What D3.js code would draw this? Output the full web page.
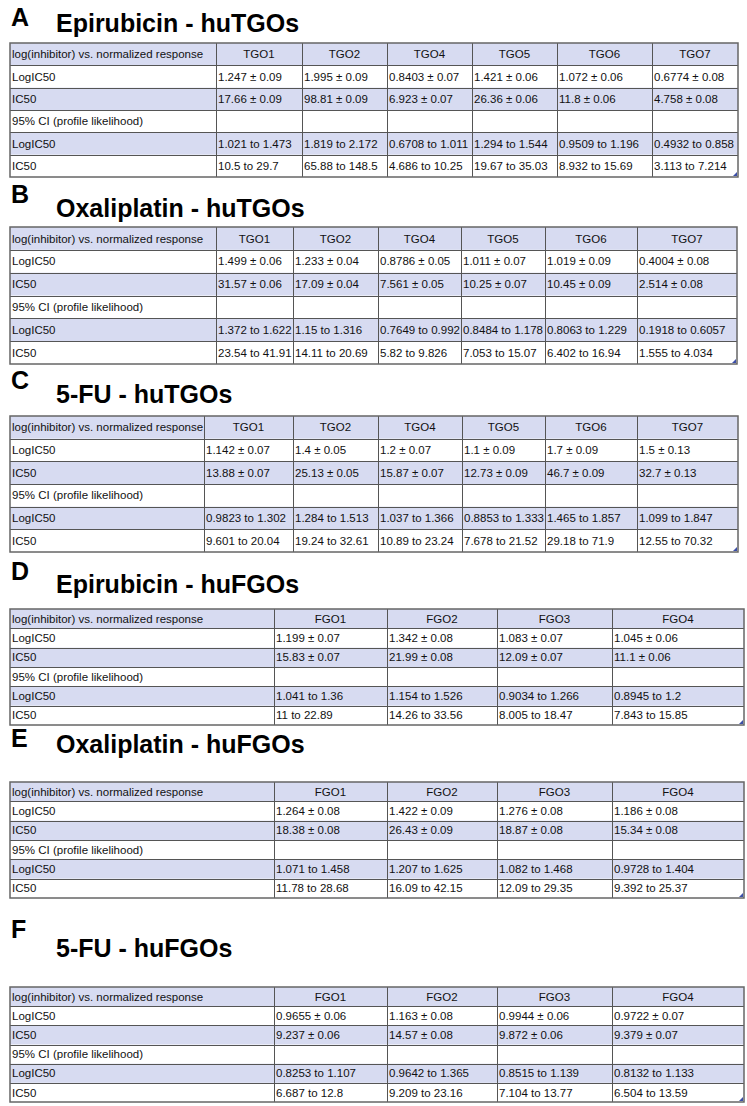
<!DOCTYPE html>
<html>
<head>
<meta charset="utf-8">
<script src="https://cdn.jsdelivr.net/npm/d3@7"></script>
<style>
  body { margin: 0; background: #fff; }
  svg { display: block; font-family: "Liberation Sans", Arial, sans-serif; }
</style>
</head>
<body>
<div id="chart"></div>
<script>
// -- row labels and column headers
const rowLabels = ["log(inhibitor) vs. normalized response", "LogIC50", "IC50",
  "95% CI (profile likelihood)", "LogIC50", "IC50"];
const tgoCols = ["TGO1", "TGO2", "TGO4", "TGO5", "TGO6", "TGO7"];
const fgoCols = ["FGO1", "FGO2", "FGO3", "FGO4"];

// -- A: Epirubicin huTGOs
const epiTgoLog = ["1.247 ± 0.09", "1.995 ± 0.09", "0.8403 ± 0.07", "1.421 ± 0.06", "1.072 ± 0.06", "0.6774 ± 0.08"];
const epiTgoIc = ["17.66 ± 0.09", "98.81 ± 0.09", "6.923 ± 0.07", "26.36 ± 0.06", "11.8 ± 0.06", "4.758 ± 0.08"];
const epiTgoLogCI = ["1.021 to 1.473", "1.819 to 2.172", "0.6708 to 1.011", "1.294 to 1.544", "0.9509 to 1.196", "0.4932 to 0.858"];
const epiTgoIcCI = ["10.5 to 29.7", "65.88 to 148.5", "4.686 to 10.25", "19.67 to 35.03", "8.932 to 15.69", "3.113 to 7.214"];

// -- B: Oxaliplatin huTGOs
const oxaTgoLog = ["1.499 ± 0.06", "1.233 ± 0.04", "0.8786 ± 0.05", "1.011 ± 0.07", "1.019 ± 0.09", "0.4004 ± 0.08"];
const oxaTgoIc = ["31.57 ± 0.06", "17.09 ± 0.04", "7.561 ± 0.05", "10.25 ± 0.07", "10.45 ± 0.09", "2.514 ± 0.08"];
const oxaTgoLogCI = ["1.372 to 1.622", "1.15 to 1.316", "0.7649 to 0.992", "0.8484 to 1.178", "0.8063 to 1.229", "0.1918 to 0.6057"];
const oxaTgoIcCI = ["23.54 to 41.91", "14.11 to 20.69", "5.82 to 9.826", "7.053 to 15.07", "6.402 to 16.94", "1.555 to 4.034"];

// -- C: 5-FU huTGOs
const fuTgoLog = ["1.142 ± 0.07", "1.4 ± 0.05", "1.2 ± 0.07", "1.1 ± 0.09", "1.7 ± 0.09", "1.5 ± 0.13"];
const fuTgoIc = ["13.88 ± 0.07", "25.13 ± 0.05", "15.87 ± 0.07", "12.73 ± 0.09", "46.7 ± 0.09", "32.7 ± 0.13"];
const fuTgoLogCI = ["0.9823 to 1.302", "1.284 to 1.513", "1.037 to 1.366", "0.8853 to 1.333", "1.465 to 1.857", "1.099 to 1.847"];
const fuTgoIcCI = ["9.601 to 20.04", "19.24 to 32.61", "10.89 to 23.24", "7.678 to 21.52", "29.18 to 71.9", "12.55 to 70.32"];

// -- D: Epirubicin huFGOs
const epiFgoLog = ["1.199 ± 0.07", "1.342 ± 0.08", "1.083 ± 0.07", "1.045 ± 0.06"];
const epiFgoIc = ["15.83 ± 0.07", "21.99 ± 0.08", "12.09 ± 0.07", "11.1 ± 0.06"];
const epiFgoLogCI = ["1.041 to 1.36", "1.154 to 1.526", "0.9034 to 1.266", "0.8945 to 1.2"];
const epiFgoIcCI = ["11 to 22.89", "14.26 to 33.56", "8.005 to 18.47", "7.843 to 15.85"];

// -- E: Oxaliplatin huFGOs
const oxaFgoLog = ["1.264 ± 0.08", "1.422 ± 0.09", "1.276 ± 0.08", "1.186 ± 0.08"];
const oxaFgoIc = ["18.38 ± 0.08", "26.43 ± 0.09", "18.87 ± 0.08", "15.34 ± 0.08"];
const oxaFgoLogCI = ["1.071 to 1.458", "1.207 to 1.625", "1.082 to 1.468", "0.9728 to 1.404"];
const oxaFgoIcCI = ["11.78 to 28.68", "16.09 to 42.15", "12.09 to 29.35", "9.392 to 25.37"];

// -- F: 5-FU huFGOs
const fuFgoLog = ["0.9655 ± 0.06", "1.163 ± 0.08", "0.9944 ± 0.06", "0.9722 ± 0.07"];
const fuFgoIc = ["9.237 ± 0.06", "14.57 ± 0.08", "9.872 ± 0.06", "9.379 ± 0.07"];
const fuFgoLogCI = ["0.8253 to 1.107", "0.9642 to 1.365", "0.8515 to 1.139", "0.8132 to 1.133"];
const fuFgoIcCI = ["6.687 to 12.8", "9.209 to 23.16", "7.104 to 13.77", "6.504 to 13.59"];

const blank = n => new Array(n).fill("");

// monta as linhas da tabela: cabeçalho + 5 linhas
const buildRows = (cols, log, ic, logCI, icCI) =>
  [cols, log, ic, blank(cols.length), logCI, icCI];

const panels = [
  { letter: "A", title: "Epirubicin - huTGOs", rows: buildRows(tgoCols, epiTgoLog, epiTgoIc, epiTgoLogCI, epiTgoIcCI) },
  { letter: "B", title: "Oxaliplatin - huTGOs", rows: buildRows(tgoCols, oxaTgoLog, oxaTgoIc, oxaTgoLogCI, oxaTgoIcCI) },
  { letter: "C", title: "5-FU - huTGOs", rows: buildRows(tgoCols, fuTgoLog, fuTgoIc, fuTgoLogCI, fuTgoIcCI) },
  { letter: "D", title: "Epirubicin - huFGOs", rows: buildRows(fgoCols, epiFgoLog, epiFgoIc, epiFgoLogCI, epiFgoIcCI) },
  { letter: "E", title: "Oxaliplatin - huFGOs", rows: buildRows(fgoCols, oxaFgoLog, oxaFgoIc, oxaFgoLogCI, oxaFgoIcCI) },
  { letter: "F", title: "5-FU - huFGOs", rows: buildRows(fgoCols, fuFgoLog, fuFgoIc, fuFgoLogCI, fuFgoIcCI) }
];

// layout (pixels) of each panel: letter/title baselines, table top/bottom, column edges
const layout = [
  { letterY: 26, titleY: 32, top: 43, bottom: 177, edges: [10, 216, 302, 387, 472, 557, 652, 738] },
  { letterY: 203, titleY: 217, top: 227, bottom: 364, edges: [10, 216, 293, 378, 461, 545, 637, 737] },
  { letterY: 389, titleY: 403, top: 416, bottom: 552, edges: [10, 204, 293, 378, 462, 545, 637, 738] },
  { letterY: 580, titleY: 593, top: 609, bottom: 725, edges: [10, 274, 387, 497, 612, 744] },
  { letterY: 747, titleY: 753, top: 782, bottom: 898, edges: [10, 274, 387, 497, 612, 744] },
  { letterY: 938, titleY: 957, top: 987, bottom: 1102, edges: [10, 274, 387, 497, 612, 744] }
];

const fill = "#d7dbf1";
const stroke = "#555";

var svg = d3.select("#chart")
  .append("svg")
  .attr("width", 747)
  .attr("height", 1106);

panels.forEach((p, pi) => {
  const L = layout[pi];
  const g = svg.append("g");

  g.append("text")
    .attr("x", 11).attr("y", L.letterY)
    .attr("font-size", 25).attr("font-weight", "bold")
    .text(p.letter);

  g.append("text")
    .attr("x", 56).attr("y", L.titleY)
    .attr("font-size", 25).attr("font-weight", "bold")
    .text(p.title);

  // escala das linhas
  const y = d3.scaleBand()
    .domain(d3.range(rowLabels.length))
    .range([L.top, L.bottom])
    .padding(0);

  // escala das colunas (larguras diferentes)
  const nCols = p.rows[0].length + 1;
  const xLeft = d3.scaleOrdinal().domain(d3.range(nCols)).range(L.edges.slice(0, nCols));
  const xRight = d3.scaleOrdinal().domain(d3.range(nCols)).range(L.edges.slice(1, nCols + 1));

  // faixas coloridas
  g.selectAll("rect.band")
    .data(d3.range(rowLabels.length).filter(i => i % 2 === 0))
    .enter()
    .append("rect")
    .attr("x", L.edges[0])
    .attr("y", i => y(i))
    .attr("width", L.edges[L.edges.length - 1] - L.edges[0])
    .attr("height", y.bandwidth())
    .attr("fill", fill);

  // linhas horizontais
  g.selectAll("line.h")
    .data(d3.range(1, rowLabels.length))
    .enter()
    .append("line")
    .attr("x1", L.edges[0]).attr("x2", L.edges[L.edges.length - 1])
    .attr("y1", i => Math.round(y(i)) + 0.5).attr("y2", i => Math.round(y(i)) + 0.5)
    .attr("stroke", stroke).attr("stroke-width", 1);

  // linhas verticais
  g.selectAll("line.v")
    .data(L.edges.slice(1, -1))
    .enter()
    .append("line")
    .attr("x1", d => d + 0.5).attr("x2", d => d + 0.5)
    .attr("y1", L.top).attr("y2", L.bottom)
    .attr("stroke", stroke).attr("stroke-width", 1);

  // borda externa
  g.append("rect")
    .attr("x", L.edges[0]).attr("y", L.top)
    .attr("width", L.edges[L.edges.length - 1] - L.edges[0])
    .attr("height", L.bottom - L.top)
    .attr("fill", "none")
    .attr("stroke", "#666").attr("stroke-width", 1.5);

  // marca azul no canto
  const cx = L.edges[L.edges.length - 1], cy = L.bottom;
  g.append("path")
    .attr("d", `M${cx - 1},${cy - 5}L${cx - 1},${cy - 1}L${cx - 5},${cy - 1}Z`)
    .attr("fill", "#3c4fa8");

  const fs = 11.5;

  // rótulos das linhas
  g.selectAll("text.label")
    .data(rowLabels)
    .enter()
    .append("text")
    .attr("x", L.edges[0] + 2)
    .attr("y", (d, i) => y(i) + y.bandwidth() / 2 + fs * 0.36)
    .attr("font-size", fs)
    .attr("fill", "#111")
    .text(d => d);

  // células
  p.rows.forEach((row, ri) => {
    g.selectAll(null)
      .data(row)
      .enter()
      .append("text")
      .attr("x", (d, ci) => ri === 0 ? (xLeft(ci + 1) + xRight(ci + 1)) / 2 : xLeft(ci + 1) + 2)
      .attr("y", y(ri) + y.bandwidth() / 2 + fs * 0.36)
      .attr("text-anchor", ri === 0 ? "middle" : "start")
      .attr("font-size", fs)
      .attr("fill", "#111")
      .text(d => d);
  });
});
</script>
</body>
</html>
